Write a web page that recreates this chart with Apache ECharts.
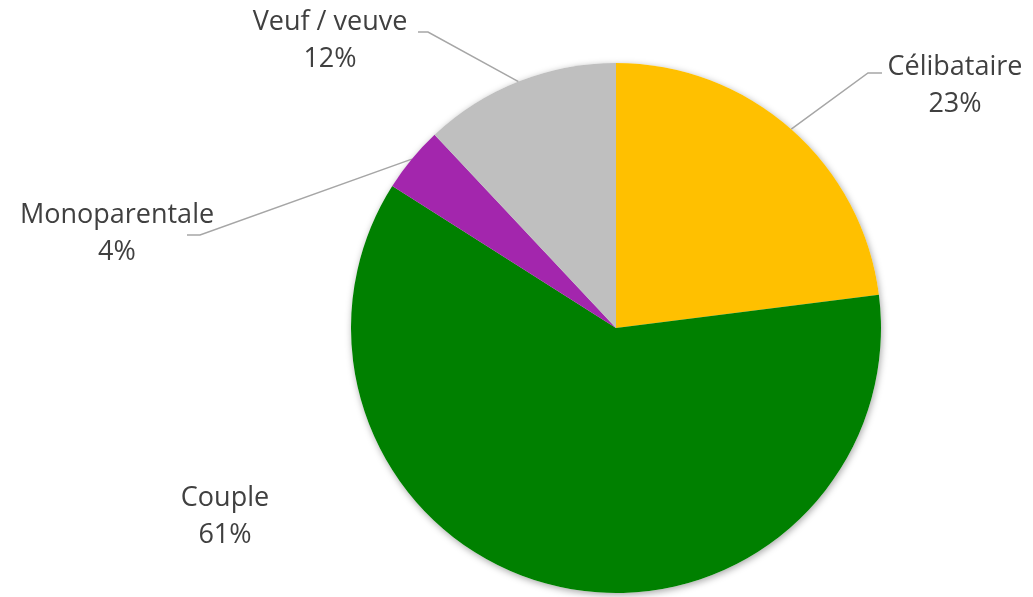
<!DOCTYPE html>
<html>
<head>
<meta charset="utf-8">
<script src="https://cdn.jsdelivr.net/npm/echarts@6/dist/echarts.min.js"></script>
<style>
  html, body { margin: 0; padding: 0; background: #fff; }
  #chart { width: 1033px; height: 597px; }
</style>
</head>
<body>
<div id="chart"></div>
<script>
// data
const categories = ['Célibataire', 'Couple', 'Monoparentale', 'Veuf / veuve'];
const values = [23, 61, 4, 12];
const colors = ['#FFC000', '#008000', '#A326AD', '#BFBFBF'];

// where each label sits, plus the bend / end of its leader line
const labelSpots = [
    { x: 955, y: 86, bend: [868, 73], end: [882, 73] },
    { x: 225, y: 517 },
    { x: 117, y: 234, bend: [200, 235], end: [187, 235] },
    { x: 330, y: 41, bend: [428, 32], end: [418, 32] }
];

const pieCenter = [616, 328];
const pieRadius = 265;

const chart = echarts.init(document.getElementById('chart'));

const option = {
    animation: false,
    series: [
        // backdrop only for the soft outer shadow (no seams between slices)
        {
            type: 'pie',
            silent: true,
            z: 1,
            center: pieCenter,
            radius: pieRadius,
            startAngle: 90,
            data: categories.map((name, i) => ({ name: name, value: values[i] })),
            label: { show: false },
            labelLine: { show: false },
            itemStyle: {
                color: '#ffffff',
                borderWidth: 0,
                shadowBlur: 7,
                shadowColor: 'rgba(0,0,0,0.35)',
                shadowOffsetX: 1,
                shadowOffsetY: 2
            }
        },
        {
            type: 'pie',
            z: 2,
            center: pieCenter,
            radius: pieRadius,
            startAngle: 90,
            clockwise: true,
            avoidLabelOverlap: false,
            data: categories.map((name, i) => ({
                name: name,
                value: values[i],
                itemStyle: { color: colors[i] },
                labelLine: { show: i !== 1 }
            })),
            itemStyle: {
                borderWidth: 0
            },
            label: {
                show: true,
                position: 'outside',
                formatter: '{b}\n{d}%',
                fontFamily: 'Open Sans',
                fontSize: 27,
                lineHeight: 37,
                color: '#404040',
                align: 'center'
            },
            labelLine: {
                show: true,
                length: 20,
                length2: 10,
                lineStyle: { color: '#A6A6A6', width: 1.5 }
            },
            labelLayout: function (params) {
                const s = labelSpots[params.dataIndex];
                const res = { x: s.x, y: s.y, align: 'center', verticalAlign: 'middle' };
                if (s.bend && params.labelLinePoints) {
                    res.labelLinePoints = [params.labelLinePoints[0], s.bend, s.end];
                }
                return res;
            }
        }
    ]
};

chart.setOption(option);
</script>
</body>
</html>
